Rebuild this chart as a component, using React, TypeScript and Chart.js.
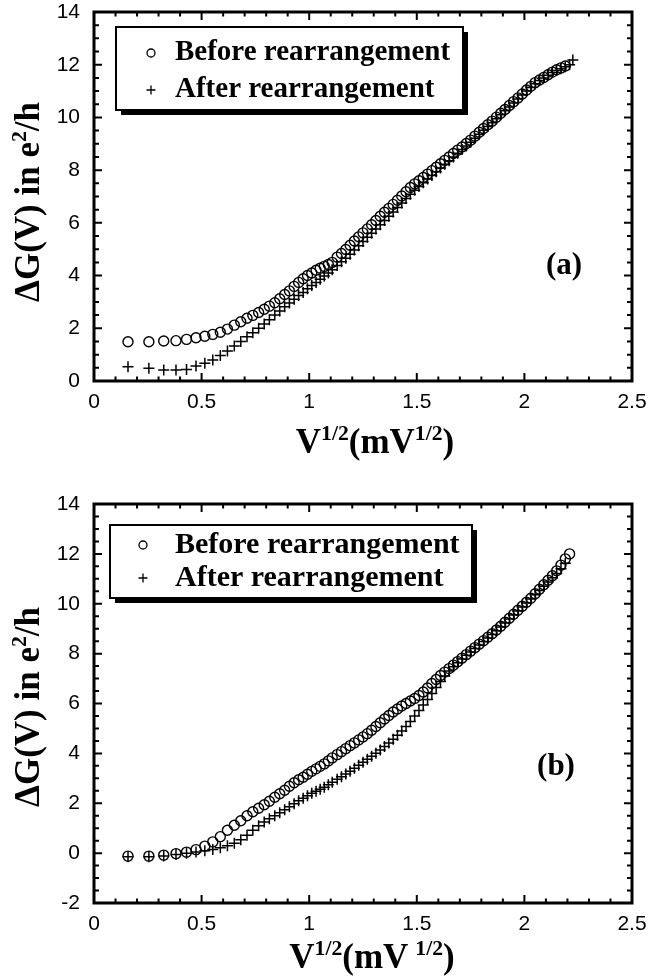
import React, { useEffect, useRef } from "react";
import { Chart, registerables } from "chart.js";

Chart.register(...registerables);

// sqrt(V) positions (mV^1/2) shared by all series
const sqrtV = [
  0.158, 0.255, 0.324, 0.381, 0.43, 0.474, 0.515, 0.552, 0.587, 0.62, 0.652, 0.682, 0.711, 0.738, 0.765, 0.791,
  0.815, 0.84, 0.863, 0.886, 0.908, 0.93, 0.951, 0.972, 0.992, 1.012, 1.032, 1.051, 1.07, 1.089, 1.107,
  1.13, 1.15, 1.17, 1.19, 1.21, 1.23, 1.25, 1.27, 1.29, 1.31, 1.33, 1.35, 1.37, 1.39, 1.41, 1.43, 1.45, 1.47, 1.49,
  1.51, 1.53, 1.55, 1.57, 1.59, 1.61, 1.63, 1.65, 1.67, 1.69, 1.71, 1.73, 1.75, 1.77, 1.79, 1.81, 1.83, 1.85, 1.87,
  1.89, 1.91, 1.93, 1.95, 1.97, 1.99, 2.01, 2.03, 2.05, 2.07, 2.09, 2.11, 2.13, 2.15, 2.17, 2.19, 2.21, 2.225,
];

// Panel (a)
const beforeA = [
  1.49, 1.49, 1.52, 1.53, 1.58, 1.64, 1.7, 1.77, 1.85, 1.97, 2.12, 2.25, 2.38, 2.49, 2.6, 2.72,
  2.84, 2.97, 3.12, 3.28, 3.42, 3.59, 3.74, 3.88, 4.0, 4.1, 4.2, 4.28, 4.35, 4.42, 4.5,
  4.7, 4.84, 4.99, 5.15, 5.31, 5.47, 5.62, 5.77, 5.93, 6.09, 6.25, 6.4, 6.55, 6.7, 6.86, 7.02, 7.18, 7.34, 7.48,
  7.6, 7.72, 7.85, 7.98, 8.11, 8.24, 8.37, 8.5, 8.63, 8.76, 8.88, 9.01, 9.14, 9.29, 9.44, 9.58, 9.72, 9.86, 10.01,
  10.16, 10.3, 10.45, 10.6, 10.74, 10.89, 11.04, 11.18, 11.32, 11.42, 11.52, 11.62, 11.72, 11.81, 11.88, 11.95, null, null,
];
const afterA = [
  0.54, 0.48, 0.42, 0.42, 0.44, 0.57, 0.67, 0.8, 0.97, 1.14, 1.33, 1.5, 1.68, 1.83, 2.0, 2.16,
  2.32, 2.5, 2.66, 2.82, 2.96, 3.1, 3.24, 3.36, 3.5, 3.62, 3.74, 3.86, 3.98, 4.1, 4.22,
  4.38, 4.52, 4.66, 4.81, 4.97, 5.13, 5.29, 5.45, 5.61, 5.77, 5.93, 6.09, 6.25, 6.41, 6.58, 6.75, 6.92, 7.09, 7.24,
  7.38, 7.52, 7.66, 7.8, 7.94, 8.08, 8.22, 8.36, 8.5, 8.64, 8.78, 8.92, 9.06, 9.21, 9.36, 9.51, 9.66, 9.8, 9.95,
  10.1, 10.25, 10.4, 10.55, 10.7, 10.85, 11.0, 11.14, 11.28, 11.4, 11.5, 11.6, 11.7, 11.78, 11.85, 11.92, 12.0, 12.18,
];

// Panel (b)
const beforeB = [
  -0.12, -0.12, -0.08, -0.02, 0.04, 0.14, 0.28, 0.45, 0.66, 0.92, 1.12, 1.3, 1.5, 1.66, 1.8, 1.94,
  2.08, 2.24, 2.38, 2.52, 2.68, 2.82, 2.94, 3.04, 3.16, 3.28, 3.38, 3.48, 3.58, 3.7, 3.82,
  3.95, 4.07, 4.19, 4.31, 4.42, 4.54, 4.66, 4.79, 4.93, 5.08, 5.23, 5.38, 5.52, 5.66, 5.78, 5.9, 6.0, 6.1, 6.2,
  6.32, 6.46, 6.62, 6.8, 6.96, 7.12, 7.26, 7.4, 7.54, 7.68, 7.82, 7.96, 8.1, 8.24, 8.38, 8.52, 8.66, 8.8, 8.95,
  9.1, 9.26, 9.42, 9.58, 9.74, 9.9, 10.06, 10.22, 10.4, 10.58, 10.76, 10.94, 11.12, 11.32, 11.55, 11.8, 12.0, null,
];
const afterB = [
  -0.15, -0.15, -0.12, -0.06, 0.0, 0.05, 0.1, 0.15, 0.22, 0.3, 0.4, 0.54, 0.72, 0.92, 1.1, 1.25,
  1.38, 1.5, 1.62, 1.74, 1.86, 1.98, 2.1, 2.2, 2.3, 2.4, 2.48, 2.56, 2.64, 2.74, 2.84,
  2.96, 3.06, 3.17, 3.28, 3.4, 3.52, 3.64, 3.76, 3.88, 4.01, 4.14, 4.28, 4.42, 4.57, 4.73, 4.9, 5.08, 5.28, 5.5,
  5.72, 5.94, 6.16, 6.4, 6.64, 6.88, 7.1, 7.3, 7.47, 7.63, 7.78, 7.93, 8.07, 8.21, 8.35, 8.49, 8.63, 8.77, 8.92,
  9.07, 9.23, 9.39, 9.55, 9.71, 9.87, 10.03, 10.19, 10.36, 10.53, 10.7, 10.87, 11.04, 11.21, 11.4, 11.62, null, null,
];

const seriesLabels = ["Before rearrangement", "After rearrangement"];
const panelLabels = ["(a)", "(b)"];
const xRange = [0, 2.5];
const yRangeA = [0, 14];
const yRangeB = [-2, 14];

type Part = [string, boolean];
const yTitleParts: Part[] = [["\u0394G(V) in e", false], ["2", true], ["/h", false]];
const xTitlePartsA: Part[] = [["V", false], ["1/2", true], ["(mV", false], ["1/2", true], [")", false]];
const xTitlePartsB: Part[] = [["V", false], ["1/2", true], ["(mV\u2009", false], ["1/2", true], [")", false]];

const SERIF = '"Liberation Serif", "Times New Roman", serif';
const SANS = '"Liberation Sans", Arial, sans-serif';

function toPoints(xs: number[], ys: (number | null)[]) {
  const out: { x: number; y: number }[] = [];
  xs.forEach((x, i) => {
    const y = ys[i];
    if (y !== null && y !== undefined) out.push({ x, y });
  });
  return out;
}

interface PanelCfg {
  before: (number | null)[];
  after: (number | null)[];
  yRange: number[];
  padTop: number;
  xAxisH: number;
  label: string;
  labelPos: [number, number];
  yTitleCenter: [number, number];
  xTitleCenter: [number, number];
  xTitle: Part[];
  legend: { l: number; t: number; r: number; b: number; mx: number; tx: number; rows: number[]; size: number };
}

function drawParts(ctx: CanvasRenderingContext2D, parts: Part[], size: number) {
  const supSize = size * 0.62;
  const widths = parts.map(([t, sup]) => {
    ctx.font = `bold ${sup ? supSize : size}px ${SERIF}`;
    return ctx.measureText(t).width;
  });
  const total = widths.reduce((a, b) => a + b, 0);
  let x = -total / 2;
  ctx.textAlign = "left";
  ctx.textBaseline = "alphabetic";
  parts.forEach(([t, sup], i) => {
    ctx.font = `bold ${sup ? supSize : size}px ${SERIF}`;
    ctx.fillText(t, x, sup ? -size * 0.36 : 0);
    x += widths[i];
  });
}

function makeDecor(cfg: PanelCfg) {
  return {
    id: "decor",
    afterDatasetsDraw(chart: any) {
      const ctx: CanvasRenderingContext2D = chart.ctx;
      const { left, right, top, bottom } = chart.chartArea;
      const xs = chart.scales.x;
      const ys = chart.scales.y;
      ctx.save();
      ctx.strokeStyle = "#000";
      ctx.lineWidth = 2;
      ctx.beginPath();
      const nx = Math.round((xRange[1] - xRange[0]) / 0.1);
      for (let i = 1; i < nx; i++) {
        const px = xs.getPixelForValue(xRange[0] + i * 0.1);
        const L = i % 5 === 0 ? 8 : 4.5;
        ctx.moveTo(px, bottom);
        ctx.lineTo(px, bottom - L);
        ctx.moveTo(px, top);
        ctx.lineTo(px, top + L);
      }
      const ny = Math.round((cfg.yRange[1] - cfg.yRange[0]) / 0.5);
      for (let i = 1; i < ny; i++) {
        const py = ys.getPixelForValue(cfg.yRange[0] + i * 0.5);
        const L = i % 4 === 0 ? 8 : 5;
        ctx.moveTo(left, py);
        ctx.lineTo(left + L, py);
        ctx.moveTo(right, py);
        ctx.lineTo(right - L, py);
      }
      ctx.stroke();
      ctx.lineWidth = 3;
      ctx.strokeRect(left, top, right - left, bottom - top);
      ctx.restore();
    },
    afterDraw(chart: any) {
      const ctx: CanvasRenderingContext2D = chart.ctx;
      ctx.save();
      ctx.fillStyle = "#000";
      // legend box with drop shadow
      const lg = cfg.legend;
      ctx.fillRect(lg.l + 5, lg.t + 5, lg.r - lg.l, lg.b - lg.t);
      ctx.fillStyle = "#fff";
      ctx.fillRect(lg.l, lg.t, lg.r - lg.l, lg.b - lg.t);
      ctx.strokeStyle = "#000";
      ctx.lineWidth = 2;
      ctx.strokeRect(lg.l, lg.t, lg.r - lg.l, lg.b - lg.t);
      // markers
      ctx.lineWidth = 1.3;
      ctx.beginPath();
      ctx.arc(lg.mx, lg.rows[0], 4, 0, Math.PI * 2);
      ctx.stroke();
      ctx.beginPath();
      ctx.moveTo(lg.mx - 4.5, lg.rows[1]);
      ctx.lineTo(lg.mx + 4.5, lg.rows[1]);
      ctx.moveTo(lg.mx, lg.rows[1] - 4.5);
      ctx.lineTo(lg.mx, lg.rows[1] + 4.5);
      ctx.stroke();
      ctx.fillStyle = "#000";
      ctx.font = `bold ${lg.size}px ${SERIF}`;
      ctx.textAlign = "left";
      ctx.textBaseline = "middle";
      ctx.fillText(seriesLabels[0], lg.tx, lg.rows[0]);
      ctx.fillText(seriesLabels[1], lg.tx, lg.rows[1]);
      // panel label
      ctx.font = `bold 31px ${SERIF}`;
      ctx.textAlign = "center";
      ctx.fillText(cfg.label, cfg.labelPos[0], cfg.labelPos[1]);
      // x title
      ctx.save();
      ctx.translate(cfg.xTitleCenter[0], cfg.xTitleCenter[1] + 11);
      drawParts(ctx, cfg.xTitle, 35);
      ctx.restore();
      // y title
      ctx.save();
      ctx.translate(cfg.yTitleCenter[0] + 11, cfg.yTitleCenter[1]);
      ctx.rotate(-Math.PI / 2);
      drawParts(ctx, yTitleParts, 35);
      ctx.restore();
      ctx.restore();
    },
  };
}

function Panel({ cfg }: { cfg: PanelCfg }) {
  const ref = useRef<HTMLCanvasElement>(null);
  useEffect(() => {
    const chart = new Chart(ref.current as HTMLCanvasElement, {
      type: "scatter",
      data: {
        datasets: [
          {
            label: seriesLabels[0],
            data: toPoints(sqrtV, cfg.before),
            pointStyle: "circle",
            pointRadius: 5,
            pointBorderWidth: 1.4,
            borderColor: "#000",
            backgroundColor: "rgba(0,0,0,0)",
            showLine: false,
          },
          {
            label: seriesLabels[1],
            data: toPoints(sqrtV, cfg.after),
            pointStyle: "cross",
            pointRadius: 5.5,
            pointBorderWidth: 1.5,
            borderColor: "#000",
            backgroundColor: "#000",
            showLine: false,
          },
        ],
      },
      options: {
        responsive: false,
        animation: false,
        devicePixelRatio: 1,
        layout: { padding: { left: 0, right: 17, top: cfg.padTop, bottom: 0 } },
        plugins: { legend: { display: false }, tooltip: { enabled: false } },
        scales: {
          x: {
            type: "linear",
            min: xRange[0],
            max: xRange[1],
            grid: { display: false, drawTicks: false },
            border: { display: false },
            ticks: {
              stepSize: 0.5,
              padding: 9,
              color: "#000",
              font: { family: SANS, size: 21 },
              callback: (v: any) => String(v),
            },
            afterFit: (s: any) => {
              s.height = cfg.xAxisH;
              s.paddingLeft = 0;
              s.paddingRight = 0;
            },
          },
          y: {
            type: "linear",
            min: cfg.yRange[0],
            max: cfg.yRange[1],
            grid: { display: false, drawTicks: false },
            border: { display: false },
            ticks: {
              stepSize: 2,
              padding: 14,
              color: "#000",
              font: { family: SANS, size: 21 },
              callback: (v: any) => String(v),
            },
            afterFit: (s: any) => {
              s.width = 94;
              s.paddingTop = 0;
              s.paddingBottom = 0;
            },
          },
        },
      },
      plugins: [makeDecor(cfg)],
    } as any);
    return () => chart.destroy();
  }, []);
  return <canvas ref={ref} width={649} height={490} style={{ display: "block", width: 649, height: 490 }} />;
}

const panelA: PanelCfg = {
  before: beforeA,
  after: afterA,
  yRange: yRangeA,
  padTop: 12,
  xAxisH: 109,
  label: panelLabels[0],
  labelPos: [564, 266],
  yTitleCenter: [28, 202],
  xTitleCenter: [375, 442],
  xTitle: xTitlePartsA,
  legend: { l: 116, t: 27, r: 463, b: 110, mx: 151, tx: 175, rows: [53, 90], size: 29 },
};

const panelB: PanelCfg = {
  before: beforeB,
  after: afterB,
  yRange: yRangeB,
  padTop: 14,
  xAxisH: 77,
  label: panelLabels[1],
  labelPos: [556, 277],
  yTitleCenter: [28, 217],
  xTitleCenter: [372, 467],
  xTitle: xTitlePartsB,
  legend: { l: 110, t: 35, r: 472, b: 108, mx: 143, tx: 175, rows: [55, 88], size: 30 },
};

export default function App() {
  return (
    <div style={{ position: "absolute", left: 0, top: 0, width: 649, height: 980, background: "#fff" }}>
      <Panel cfg={panelA} />
      <Panel cfg={panelB} />
    </div>
  );
}
